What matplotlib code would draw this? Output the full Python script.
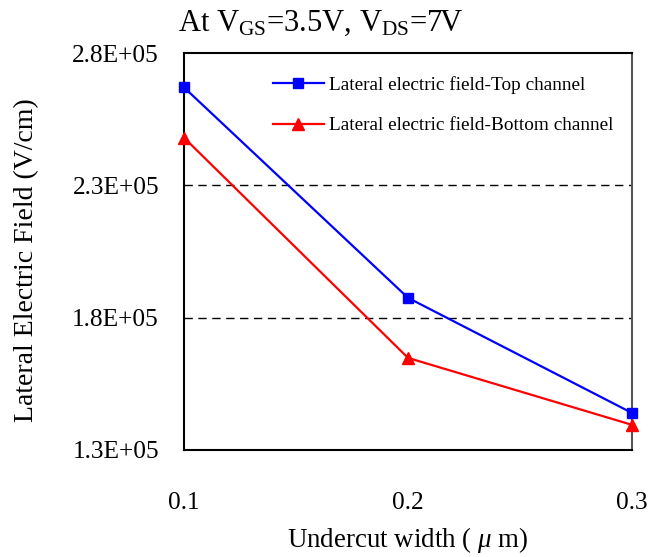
import matplotlib
matplotlib.use("Agg")
import matplotlib.pyplot as plt

# Undercut width (um) and lateral electric field (V/cm)
undercut = [0.1, 0.2, 0.3]
field_top = [2.67e5, 1.875e5, 1.44e5]
field_bottom = [2.48e5, 1.648e5, 1.395e5]
yticks = [1.3e5, 1.8e5, 2.3e5, 2.8e5]
ytick_labels = ["1.3E+05", "1.8E+05", "2.3E+05", "2.8E+05"]
xticks = [0.1, 0.2, 0.3]
xtick_labels = ["0.1", "0.2", "0.3"]

plt.rcParams["font.family"] = ["Liberation Serif", "DejaVu Serif"]
plt.rcParams["mathtext.fontset"] = "custom"
plt.rcParams["mathtext.rm"] = "Liberation Serif"
plt.rcParams["mathtext.it"] = "Liberation Serif:italic"

W, H = 652, 557
fig = plt.figure(figsize=(W / 100, H / 100), dpi=100)
L, R, T, B = 184, 632, 53, 450
ax = fig.add_axes([L / W, 1 - B / H, (R - L) / W, (B - T) / H])

for y in yticks[1:-1]:
    ax.axhline(y, color="black", lw=1.0, ls=(0, (6, 4)), zorder=1)

ax.plot(undercut, field_top, color="#0000ff", lw=1.6, marker="s", ms=7.5,
        label="Lateral electric field-Top channel", clip_on=False, zorder=3)
ax.plot(undercut, field_bottom, color="#ff0000", lw=1.6, marker="^", ms=9,
        label="Lateral electric field-Bottom channel", clip_on=False, zorder=3)

ax.set_xlim(0.1, 0.3)
ax.set_ylim(1.3e5, 2.8e5)
ax.set_xticks(xticks)
ax.set_xticklabels(xtick_labels, fontsize=18.3)
ax.set_yticks(yticks)
ax.set_yticklabels(ytick_labels, fontsize=18.3)
ax.tick_params(length=0)
ax.tick_params(axis="x", pad=30)
ax.tick_params(axis="y", pad=18)

for s in ax.spines.values():
    s.set_linewidth(1.5)
ax.spines["right"].set_color("#555555")

xl = ax.set_xlabel("Undercut width ( $\\mathit{\\mu}$ m)", fontsize=19.4)
xl.set_va("center")
ax.xaxis.set_label_coords((408 - L) / (R - L), -(540 - B) / (B - T))
yl = ax.set_ylabel("Lateral Electric Field (V/cm)", fontsize=20)
yl.set_va("center")
ax.yaxis.set_label_coords(-(L - 27) / (R - L), (B - 260) / (B - T))

fig.text(178 / W, 1 - 31 / H, "At V$_{\\mathrm{GS}}$=3.5V, V$_{\\mathrm{DS}}$=7V",
         fontsize=22, ha="left", va="baseline")

ax.legend(loc="upper left", bbox_to_anchor=((265 - L) / (R - L), 1 - (68 - T) / (B - T)),
          borderaxespad=0, frameon=False, fontsize=13.9, handlelength=2.64,
          labelspacing=1.2, handletextpad=0.3)

fig.savefig("out.png", dpi=100)
